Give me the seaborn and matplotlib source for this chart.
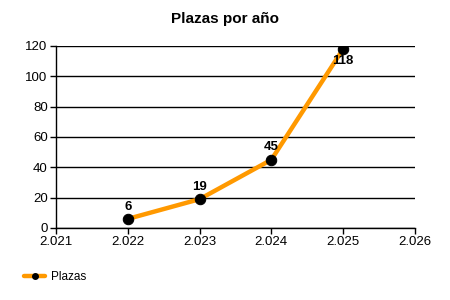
import matplotlib
matplotlib.use("Agg")
import matplotlib.pyplot as plt
import seaborn as sns
import pandas as pd
from matplotlib.ticker import FuncFormatter, MultipleLocator
from matplotlib.lines import Line2D

years = [2022, 2023, 2024, 2025]
plazas = [6, 19, 45, 118]
series_name = "Plazas"
title = "Plazas por año"

df = pd.DataFrame({"year": years, "plazas": plazas})

sns.set_style("white")
plt.rcParams['font.family'] = ['Liberation Sans', 'DejaVu Sans']
plt.rcParams['text.color'] = 'black'
plt.rcParams['xtick.color'] = 'black'
plt.rcParams['ytick.color'] = 'black'

fig = plt.figure(figsize=(4.5, 3.0), dpi=100)
ax = fig.add_axes([0.1244, 0.24, 0.7976, 0.6067])

sns.lineplot(data=df, x="year", y="plazas", ax=ax, color="#FF9900", linewidth=3.2,
             marker="o", markersize=7.5, markerfacecolor="black", markeredgecolor="black",
             zorder=3, legend=False)

for x, y in zip(years, plazas):
    if y >= 110:
        ax.annotate(str(y), (x, y), xytext=(0, -4), textcoords="offset points",
                    ha="center", va="top", fontsize=9.5, fontweight="bold", color="black")
    else:
        ax.annotate(str(y), (x, y), xytext=(0, 4.5), textcoords="offset points",
                    ha="center", va="bottom", fontsize=9.5, fontweight="bold", color="black")

ax.set_xlim(2021, 2026)
ax.set_ylim(0, 120)
ax.xaxis.set_major_locator(MultipleLocator(1))
ax.yaxis.set_major_locator(MultipleLocator(20))
ax.xaxis.set_major_formatter(FuncFormatter(lambda v, p: f"{int(round(v)):,}".replace(",", ".")))
ax.yaxis.grid(True, color="black", linewidth=1)
ax.xaxis.grid(False)
ax.set_axisbelow(True)
for s in ["top", "right"]:
    ax.spines[s].set_visible(False)
for s in ["left", "bottom"]:
    ax.spines[s].set_color("black")
    ax.spines[s].set_linewidth(1)
ax.tick_params(axis="both", which="major", direction="out", length=4, width=1,
               color="black", labelsize=9.5, labelcolor="black", pad=2, bottom=True, left=True)
ax.set_xlabel("")
ax.set_ylabel("")

fig.text(0.5, 0.935, title, ha="center", va="center", fontsize=11, fontweight="bold", color="black")

handle = Line2D([], [], color="#FF9900", linewidth=3.2, marker="o", markersize=4,
                markerfacecolor="black", markeredgecolor="black")
fig.legend([handle], [series_name], loc="center left", bbox_to_anchor=(0.03, 0.075),
           frameon=False, fontsize=8.5, handlelength=1.8, handletextpad=0.5, labelcolor="black")

fig.savefig("out.png", dpi=100)
